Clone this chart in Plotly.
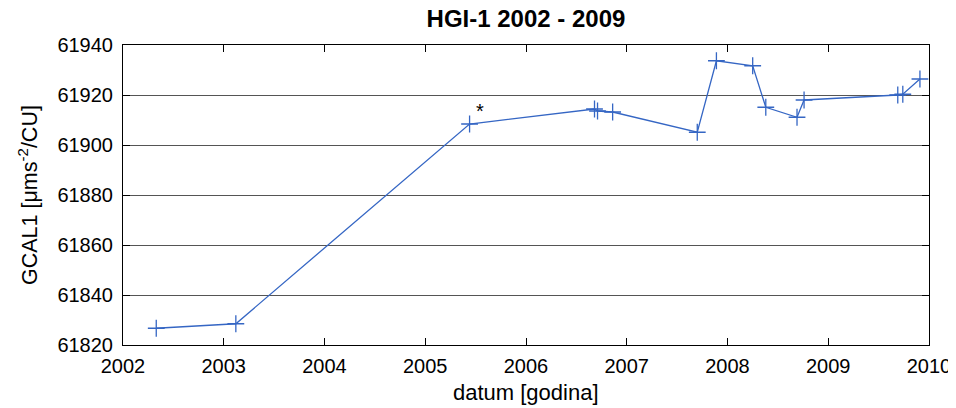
import plotly.graph_objects as go

years = [2002.33, 2003.12, 2005.44, 2006.68, 2006.71, 2006.86, 2007.70, 2007.89,
         2008.25, 2008.38, 2008.69, 2008.76, 2009.69, 2009.74, 2009.91]
gcal = [61826.7, 61828.5, 61908.4, 61914.4, 61913.6, 61913.2, 61905.1, 61933.7,
        61931.7, 61915.1, 61911.1, 61918.0, 61920.0, 61920.3, 61926.4]
star_year = [2005.54]
star_val = [61913.8]
x_ticks = [2002, 2003, 2004, 2005, 2006, 2007, 2008, 2009, 2010]
y_ticks = [61820, 61840, 61860, 61880, 61900, 61920, 61940]

FAM = "Liberation Sans, Arial"
blue = "#3566C4"
fig = go.Figure()
fig.add_trace(go.Scatter(
    x=years, y=gcal, mode="lines+markers",
    line=dict(color=blue, width=1.3),
    marker=dict(symbol="cross-thin", size=12, line=dict(color=blue, width=1.3)),
    showlegend=False, hoverinfo="x+y"))

fig.add_annotation(x=star_year[0], y=star_val[0], text="*", showarrow=False,
                   font=dict(family=FAM, size=20, color="black"))
fig.add_annotation(x=0.5, y=0, xref="paper", yref="paper", xanchor="center", yanchor="middle",
                   yshift=-47, text="datum [godina]", showarrow=False,
                   font=dict(family=FAM, size=22, color="black"))
fig.add_annotation(x=0, y=0.5, xref="paper", yref="paper", xanchor="center", yanchor="middle",
                   xshift=-95, textangle=-90, text="GCAL1 [μms<sup>-2</sup>/CU]", showarrow=False,
                   font=dict(family=FAM, size=21.5, color="black"))

fig.update_layout(
    width=948, height=400,
    margin=dict(l=115, r=27, t=37, b=63, autoexpand=False),
    paper_bgcolor="white", plot_bgcolor="white",
    font=dict(family=FAM, size=20, color="black"),
    title=dict(text="<b>HGI-1 2002 - 2009</b>", x=0.5, xref="paper", xanchor="center",
               y=1 - 11 / 400, yref="container", yanchor="middle",
               font=dict(family=FAM, size=24, color="black")),
    xaxis=dict(range=[2002, 2010], tickvals=x_ticks, ticktext=[str(v) for v in x_ticks],
               ticks="inside", ticklen=7, tickcolor="black", showline=True, linecolor="black",
               linewidth=1, mirror="allticks", showgrid=False, zeroline=False, automargin=False,
               ticklabelstandoff=3),
    yaxis=dict(range=[61820, 61940], tickvals=y_ticks, ticktext=[str(v) for v in y_ticks],
               ticks="inside", ticklen=7, tickcolor="black", showline=True, linecolor="black",
               linewidth=1, mirror="allticks", showgrid=True, gridcolor="#555555", gridwidth=1,
               zeroline=False, automargin=False, ticklabelstandoff=5),
)

fig.write_html("out.html")
